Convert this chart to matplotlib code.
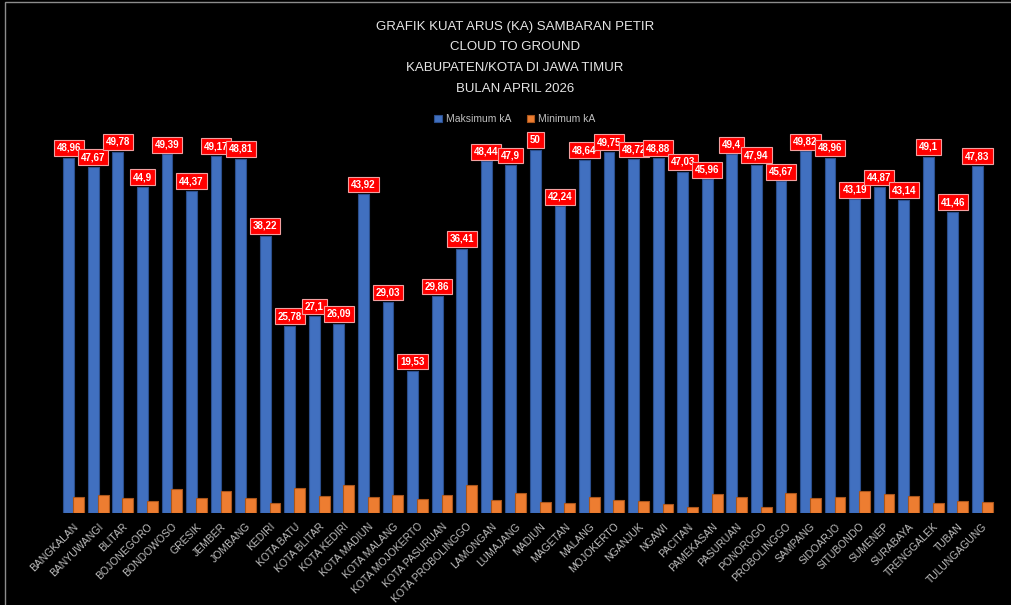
import numpy as np
import matplotlib
matplotlib.use("Agg")
from matplotlib import pyplot as plt
from matplotlib.patches import Rectangle

# Data
kabupaten = ["BANGKALAN", "BANYUWANGI", "BLITAR", "BOJONEGORO", "BONDOWOSO", "GRESIK",
             "JEMBER", "JOMBANG", "KEDIRI", "KOTA BATU", "KOTA BLITAR", "KOTA KEDIRI",
             "KOTA MADIUN", "KOTA MALANG", "KOTA MOJOKERTO", "KOTA PASURUAN",
             "KOTA PROBOLINGGO", "LAMONGAN", "LUMAJANG", "MADIUN", "MAGETAN", "MALANG",
             "MOJOKERTO", "NGANJUK", "NGAWI", "PACITAN", "PAMEKASAN", "PASURUAN",
             "PONOROGO", "PROBOLINGGO", "SAMPANG", "SIDOARJO", "SITUBONDO", "SUMENEP",
             "SURABAYA", "TRENGGALEK", "TUBAN", "TULUNGAGUNG"]

maks_ka = [48.96, 47.67, 49.78, 44.9, 49.39, 44.37, 49.17, 48.81, 38.22, 25.78, 27.1, 26.09,
           43.92, 29.03, 19.53, 29.86, 36.41, 48.44, 47.9, 50, 42.24, 48.64, 49.75, 48.72,
           48.88, 47.03, 45.96, 49.4, 47.94, 45.67, 49.82, 48.96, 43.19, 44.87, 43.14,
           49.1, 41.46, 47.83]

# minimum values are not labelled
min_ka = [2.2, 2.5, 2.0, 1.6, 3.3, 2.05, 3.0, 2.0, 1.4, 3.5, 2.3, 3.8, 2.2, 2.5, 1.9, 2.5,
          3.8, 1.8, 2.8, 1.55, 1.4, 2.2, 1.8, 1.65, 1.3, 0.8, 2.55, 2.2, 0.8, 2.8, 2.0,
          2.2, 3.0, 2.55, 2.4, 1.4, 1.7, 1.55]

judul = ["GRAFIK KUAT ARUS (KA) SAMBARAN PETIR", "CLOUD TO GROUND",
         "KABUPATEN/KOTA DI JAWA TIMUR", "BULAN APRIL 2026"]

plt.rcParams["font.family"] = ["Liberation Sans", "DejaVu Sans"]

W, H = 1011, 605
fig = plt.figure(figsize=(W / 100, H / 100), dpi=100, facecolor="black")

# axes placed in pixel terms: baseline y=513, 50 kA at y=150
left_px, right_px = 54, 1002
ax = fig.add_axes([left_px / W, 1 - 513 / H, (right_px - left_px) / W, 363 / H])
ax.set_facecolor("black")

x = np.arange(len(kabupaten))
off = 0.2
w = 0.44
ax.bar(x - off, maks_ka, w, color="#4170C0", edgecolor="#2B4E8C", linewidth=0.8,
       zorder=2, label="Maksimum kA")
ax.bar(x + off, min_ka, w, color="#ED7D31", edgecolor="#A9561C", linewidth=0.8,
       zorder=3, label="Minimum kA")

# red value boxes on the blue bars
for xi, v in zip(x, maks_ka):
    ax.annotate(f"{v:g}".replace(".", ","), (xi - off, v), xytext=(0, 7),
                textcoords="offset points", ha="center", va="center",
                fontsize=7, fontweight="bold", color="white", zorder=5,
                bbox=dict(boxstyle="square,pad=0.3", fc="#FF0000", ec="#F2A0A0", lw=0.8),
                annotation_clip=False)

ax.set_xlim(-0.8, len(kabupaten) - 0.2)
ax.set_ylim(0, 50)
ax.set_xticks(x)
ax.set_xticklabels(kabupaten, rotation=45, ha="right", rotation_mode="anchor",
                   fontsize=7.5, color="#BFBFBF")
ax.tick_params(axis="x", length=0, pad=6)
ax.set_yticks([])
for s in ax.spines.values():
    s.set_visible(False)

# title lines
for i, t in enumerate(judul):
    fig.text(515 / W, 1 - (27 + i * 20.5) / H, t, ha="center", va="center",
             fontsize=9.5, color="#E6E6E6")

fig.legend(loc="center", bbox_to_anchor=(515 / W, 1 - 119 / H), ncol=2,
           frameon=False, fontsize=7.5, labelcolor="#BFBFBF", handlelength=0.7,
           handleheight=0.7, columnspacing=1.5, handletextpad=0.4)

# thin frame at top/left like the screenshot
fig.patches.append(Rectangle((5 / W, -0.05), 1.1, 1 - 2 / H + 0.05, transform=fig.transFigure,
                             fill=False, ec="#8C8C8C", lw=1.0))

fig.savefig("out.png", dpi=100, facecolor="black")
